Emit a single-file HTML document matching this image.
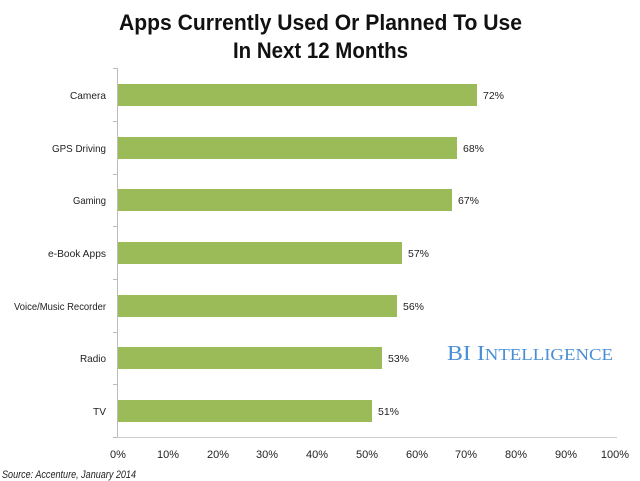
<!DOCTYPE html>
<html><head><style>
body{margin:0;background:#fff;}
</style></head><body>
<svg width="640" height="481" xmlns="http://www.w3.org/2000/svg" style="display:block">
<rect width="640" height="481" fill="#fff"/>
<g font-family="Liberation Sans, sans-serif" font-weight="bold" font-size="22" fill="#111">
<text x="119" y="30" textLength="403" lengthAdjust="spacingAndGlyphs">Apps Currently Used Or Planned To Use</text>
<text x="233" y="58" textLength="175" lengthAdjust="spacingAndGlyphs">In Next 12 Months</text>
</g>
<line x1="117.5" y1="68" x2="117.5" y2="437" stroke="#bbb"/>
<line x1="117" y1="437.5" x2="617" y2="437.5" stroke="#ccc"/>
<g stroke="#bbb">
<line x1="113" y1="68.5" x2="117" y2="68.5"/>
<line x1="113" y1="121.5" x2="117" y2="121.5"/>
<line x1="113" y1="174.5" x2="117" y2="174.5"/>
<line x1="113" y1="226.5" x2="117" y2="226.5"/>
<line x1="113" y1="279.5" x2="117" y2="279.5"/>
<line x1="113" y1="332.5" x2="117" y2="332.5"/>
<line x1="113" y1="384.5" x2="117" y2="384.5"/>
<line x1="113" y1="437.5" x2="117" y2="437.5"/>
</g>
<g fill="#9BBB59">
<rect x="118" y="84" width="359" height="22"/>
<rect x="118" y="137" width="339" height="22"/>
<rect x="118" y="189" width="334" height="22"/>
<rect x="118" y="242" width="284" height="22"/>
<rect x="118" y="295" width="279" height="22"/>
<rect x="118" y="347" width="264" height="22"/>
<rect x="118" y="400" width="254" height="22"/>
</g>
<g font-family="Liberation Sans, sans-serif" font-size="10.5" fill="#222">
<text x="70" y="99" textLength="36" lengthAdjust="spacingAndGlyphs">Camera</text>
<text x="52" y="152" textLength="54" lengthAdjust="spacingAndGlyphs">GPS Driving</text>
<text x="73" y="204" textLength="33" lengthAdjust="spacingAndGlyphs">Gaming</text>
<text x="48" y="257" textLength="58" lengthAdjust="spacingAndGlyphs">e-Book Apps</text>
<text x="14" y="310" textLength="92" lengthAdjust="spacingAndGlyphs">Voice/Music Recorder</text>
<text x="80" y="362" textLength="26" lengthAdjust="spacingAndGlyphs">Radio</text>
<text x="93" y="415" textLength="13" lengthAdjust="spacingAndGlyphs">TV</text>
<text x="483" y="99">72%</text>
<text x="463" y="152">68%</text>
<text x="458" y="204">67%</text>
<text x="408" y="257">57%</text>
<text x="403" y="310">56%</text>
<text x="388" y="362">53%</text>
<text x="378" y="415">51%</text>
<g text-anchor="middle" font-size="11">
<text x="118" y="458">0%</text>
<text x="168" y="458">10%</text>
<text x="218" y="458">20%</text>
<text x="267" y="458">30%</text>
<text x="317" y="458">40%</text>
<text x="367" y="458">50%</text>
<text x="417" y="458">60%</text>
<text x="466" y="458">70%</text>
<text x="516" y="458">80%</text>
<text x="566" y="458">90%</text>
<text x="615" y="458">100%</text>
</g>
<text x="2" y="478" font-style="italic" font-size="11" textLength="134" lengthAdjust="spacingAndGlyphs">Source: Accenture, January 2014</text>
</g>
<text x="447" y="360" font-family="Liberation Serif, serif" font-size="21" fill="#4a8fd6" textLength="166" lengthAdjust="spacingAndGlyphs">BI I<tspan font-size="16.5">NTELLIGENCE</tspan></text>
</svg>
</body></html>
